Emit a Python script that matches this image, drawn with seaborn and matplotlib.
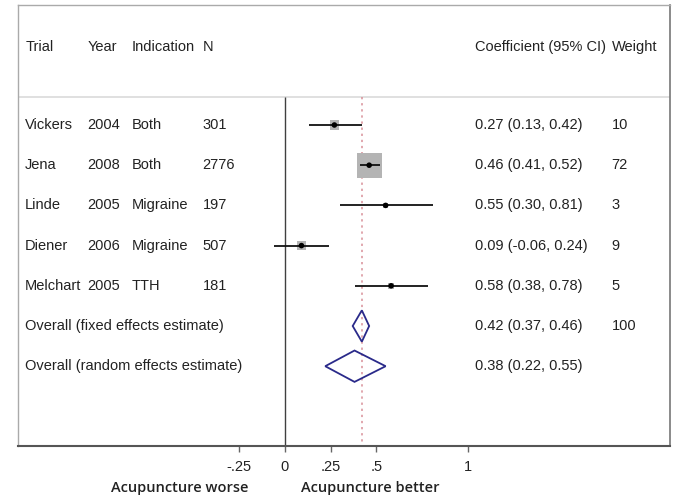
import numpy as np
import matplotlib.pyplot as plt
import seaborn as sns
from matplotlib.patches import Polygon

# Données de la méta-analyse
trials = ["Vickers", "Jena", "Linde", "Diener", "Melchart"]
years = ["2004", "2008", "2005", "2006", "2005"]
indications = ["Both", "Both", "Migraine", "Migraine", "TTH"]
n_patients = ["301", "2776", "197", "507", "181"]
coef = [0.27, 0.46, 0.55, 0.09, 0.58]
ci_low = [0.13, 0.41, 0.30, -0.06, 0.38]
ci_high = [0.42, 0.52, 0.81, 0.24, 0.78]
weights = [10, 72, 3, 9, 5]

overall_labels = ["Overall (fixed effects estimate)", "Overall (random effects estimate)"]
overall_coef = [0.42, 0.38]
overall_low = [0.37, 0.22]
overall_high = [0.46, 0.55]
overall_weight = ["100", ""]

xticks = [-0.25, 0, 0.25, 0.5, 1]
xtick_labels = ["-.25", "0", ".25", ".5", "1"]

sns.set_style("white")
plt.rcParams['font.family'] = ['Liberation Sans', 'DejaVu Sans']

fig = plt.figure(figsize=(6.78, 5.01), dpi=100)
ax = fig.add_axes([18 / 678, 55 / 501, 652 / 678, 441 / 501])
ax.set_xlim(-1.459, 2.104)
ax.set_ylim(7.985, -2.985)

txt = dict(fontsize=10.5, color="#222222", va="center")
n = len(trials)
rows = np.arange(n)

# En-têtes
header_y = -1.95
col_x = [-1.42, -1.08, -0.84, -0.45]
for x, h in zip(col_x, ["Trial", "Year", "Indication", "N"]):
    ax.text(x, header_y, h, **txt)
ax.text(1.04, header_y, "Coefficient (95% CI)", **txt)
ax.text(1.785, header_y, "Weight", **txt)
ax.axhline(-0.7, color="#dadada", lw=1.2)

# Colonnes de texte
for i in range(n):
    ax.text(col_x[0], i, trials[i], **txt)
    ax.text(col_x[1], i, years[i], **txt)
    ax.text(col_x[2], i, indications[i], **txt)
    ax.text(col_x[3], i, n_patients[i], **txt)
    ax.text(1.04, i, f"{coef[i]:.2f} ({ci_low[i]:.2f}, {ci_high[i]:.2f})", **txt)
    ax.text(1.785, i, str(weights[i]), **txt)

for j in range(2):
    y = n + j
    ax.text(col_x[0], y, overall_labels[j], **txt)
    ax.text(1.04, y, f"{overall_coef[j]:.2f} ({overall_low[j]:.2f}, {overall_high[j]:.2f})", **txt)
    ax.text(1.785, y, overall_weight[j], **txt)

# Lignes de référence
ax.vlines(0, -0.7, 7.985, color="#404040", lw=1)
ax.vlines(overall_coef[0], -0.7, 7.985, color="#d89098", lw=1.1, linestyles=(0, (1.5, 2.5)))

# Carrés pondérés, intervalles et points
sns.scatterplot(x=coef, y=rows, size=weights, sizes=(4.5 * min(weights), 4.5 * max(weights)),
                size_norm=(min(weights), max(weights)), marker="s", color="#b4b4b4",
                edgecolor="none", legend=False, ax=ax, zorder=2)
ax.hlines(rows, ci_low, ci_high, color="#111111", lw=1.3, zorder=3)
sns.scatterplot(x=coef, y=rows, s=16, color="black", edgecolor="none", ax=ax, zorder=4)

# Losanges des estimations globales
for j in range(2):
    y = n + j
    pts = [(overall_low[j], y), (overall_coef[j], y - 0.39),
           (overall_high[j], y), (overall_coef[j], y + 0.39)]
    ax.add_patch(Polygon(pts, closed=True, fill=False, edgecolor="#2a2a8a", lw=1.3, zorder=3))

# Axes
ax.set_xticks(xticks)
ax.set_xticklabels(xtick_labels, fontsize=10.5, color="#222222")
ax.set_yticks([])
ax.tick_params(axis="x", bottom=True, length=4, width=1, color="#666666", pad=6)
for side in ["left", "top"]:
    ax.spines[side].set_color("#aaaaaa")
    ax.spines[side].set_linewidth(1)
ax.spines["right"].set_color("#777777")
ax.spines["right"].set_linewidth(1.2)
ax.spines["bottom"].set_color("#555555")
ax.spines["bottom"].set_linewidth(1.5)
ax.set_xlabel("")
ax.set_ylabel("")

fig.text(180 / 678, 1 - 488 / 501, "Acupuncture worse", ha="center", va="center",
         fontsize=10.5, fontweight="semibold", family=["Open Sans", "DejaVu Sans"], color="#222222")
fig.text(370 / 678, 1 - 488 / 501, "Acupuncture better", ha="center", va="center",
         fontsize=10.5, fontweight="semibold", family=["Open Sans", "DejaVu Sans"], color="#222222")

fig.savefig("out.png", dpi=100)
